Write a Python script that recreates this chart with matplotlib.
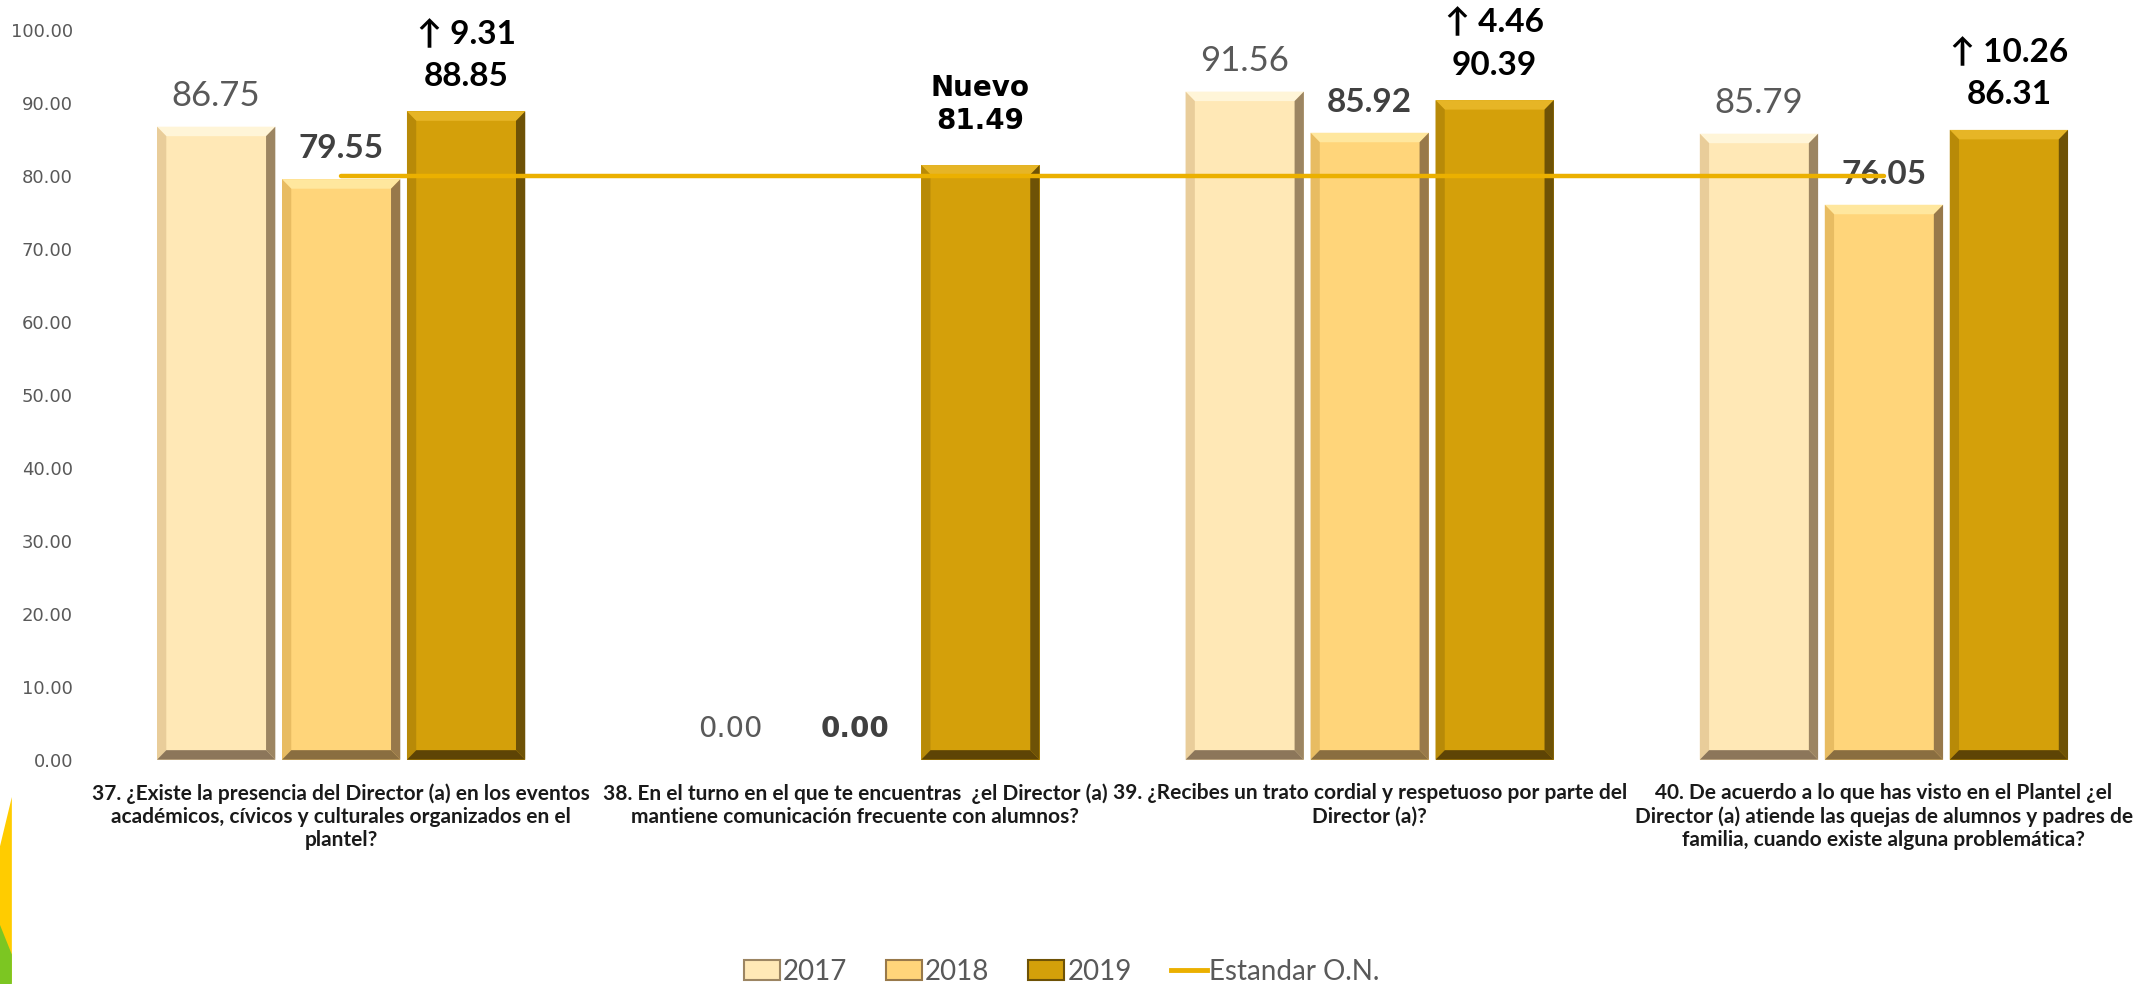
import matplotlib
matplotlib.use('Agg')
import matplotlib.pyplot as plt
from matplotlib.patches import Polygon, Patch
from matplotlib.lines import Line2D
import numpy as np

plt.rcParams['font.family'] = ['Lato', 'DejaVu Sans']

preguntas = [
    '37. ¿Existe la presencia del Director (a) en los eventos\nacadémicos, cívicos y culturales organizados en el\nplantel?',
    '38. En el turno en el que te encuentras  ¿el Director (a)\nmantiene comunicación frecuente con alumnos?',
    '39. ¿Recibes un trato cordial y respetuoso por parte del\nDirector (a)?',
    '40. De acuerdo a lo que has visto en el Plantel ¿el\nDirector (a) atiende las quejas de alumnos y padres de\nfamilia, cuando existe alguna problemática?',
]
anios = ['2017', '2018', '2019']
v2017 = [86.75, 0.00, 91.56, 85.79]
v2018 = [79.55, 0.00, 85.92, 76.05]
v2019 = [88.85, 81.49, 90.39, 86.31]
estandar = [80, 80, 80, 80]
cambio_2019 = ['↑ 9.31', 'Nuevo', '↑ 4.46', '↑ 10.26']
yticks = [0, 10, 20, 30, 40, 50, 60, 70, 80, 90, 100]

# face, top bevel, left bevel, right bevel, bottom bevel
colores = [
    ('#FFE8B6', '#FFF5D8', '#E9CD9A', '#9C8562', '#8C765A'),
    ('#FFD57A', '#FFE79E', '#E8BC62', '#98794A', '#8A6E40'),
    ('#D4A00A', '#E6B526', '#B88A08', '#6E5206', '#5E4405'),
]
linea_color = '#EBB000'

fig = plt.figure(figsize=(21.54, 9.84), dpi=100)
ax = fig.add_axes([0.039, 0.228, 0.955, 0.7415])

x = np.arange(len(preguntas))
ancho = 0.23
paso = 0.243
series = [v2017, v2018, v2019]

# bevel thickness in data units
bx = 0.018
by = 1.3


def barra_bisel(ax, xc, h, cols):
    if h <= 0:
        return
    x0, x1 = xc - ancho / 2, xc + ancho / 2
    face, top, left, right, bot = cols
    ax.add_patch(Polygon([(x0, 0), (x1, 0), (x1, h), (x0, h)], closed=True, fc=face, ec='none'))
    ax.add_patch(Polygon([(x0, h), (x1, h), (x1 - bx, h - by), (x0 + bx, h - by)], fc=top, ec='none'))
    ax.add_patch(Polygon([(x0, 0), (x0 + bx, by), (x0 + bx, h - by), (x0, h)], fc=left, ec='none'))
    ax.add_patch(Polygon([(x1, 0), (x1, h), (x1 - bx, h - by), (x1 - bx, by)], fc=right, ec='none'))
    ax.add_patch(Polygon([(x0, 0), (x1, 0), (x1 - bx, by), (x0 + bx, by)], fc=bot, ec='none'))


for s, vals in enumerate(series):
    for i, v in enumerate(vals):
        barra_bisel(ax, x[i] + (s - 1) * paso, v, colores[s])

ax.plot(x, estandar, color=linea_color, lw=3.2, zorder=5, solid_capstyle='round')

# value labels
for i in range(len(preguntas)):
    fam = ['DejaVu Sans'] if i == 1 else ['Lato', 'DejaVu Sans']
    fs_n = 21 if i == 1 else 25
    fs_b = 20 if i == 1 else 24
    ax.text(x[i] - paso, v2017[i] + 4.2, f'{v2017[i]:.2f}', ha='center', va='center',
            color='#595959', fontsize=fs_n, family=fam)
    ax.text(x[i], v2018[i] + 4.2, f'{v2018[i]:.2f}', ha='center', va='center',
            color='#404040', fontsize=fs_b, fontweight='bold', family=fam)
    off, gap = (6.0, 4.6) if i == 1 else (4.8, 5.8)
    ax.text(x[i] + paso, v2019[i] + off, f'{v2019[i]:.2f}', ha='center', va='center',
            color='black', fontsize=fs_b, fontweight='bold', family=fam, clip_on=False)
    ax.text(x[i] + paso, v2019[i] + off + gap, cambio_2019[i], ha='center', va='center',
            color='black', fontsize=fs_b, fontweight='bold', family=fam, clip_on=False)

ax.set_xlim(-0.5, len(preguntas) - 0.5)
ax.set_ylim(0, 100)
ax.set_yticks(yticks)
ax.set_yticklabels([f'{t:.2f}' for t in yticks], fontsize=13, color='#595959', family=['DejaVu Sans'])
ax.set_xticks(x)
ax.set_xticklabels(preguntas, fontsize=15, fontweight='bold', color='#1a1a1a', linespacing=1.2)
ax.tick_params(axis='both', length=0)
ax.tick_params(axis='x', pad=17)
ax.tick_params(axis='y', pad=8)
for sp in ax.spines.values():
    sp.set_visible(False)

handles = [Patch(facecolor=colores[k][0], edgecolor=colores[k][3], linewidth=1.5) for k in range(3)]
handles.append(Line2D([0], [0], color=linea_color, lw=3.5))
fig.legend(handles, anios + ['Estandar O.N.'], loc='lower center', bbox_to_anchor=(0.493, -0.026),
           ncol=4, frameon=False, fontsize=20, labelcolor='#595959', handlelength=1.3,
           handletextpad=0.1, columnspacing=1.4)

# decorative slide corner
fig.patches.append(Polygon([(0, 0.03), (0, 0.14), (0.0055, 0.19), (0.0055, 0.0)], closed=True,
                           transform=fig.transFigure, fc='#FFCC00', ec='none'))
fig.patches.append(Polygon([(0, 0), (0.0055, 0), (0.0055, 0.03), (0, 0.06)], closed=True,
                           transform=fig.transFigure, fc='#7CC622', ec='none'))

fig.savefig('out.png', dpi=100)
